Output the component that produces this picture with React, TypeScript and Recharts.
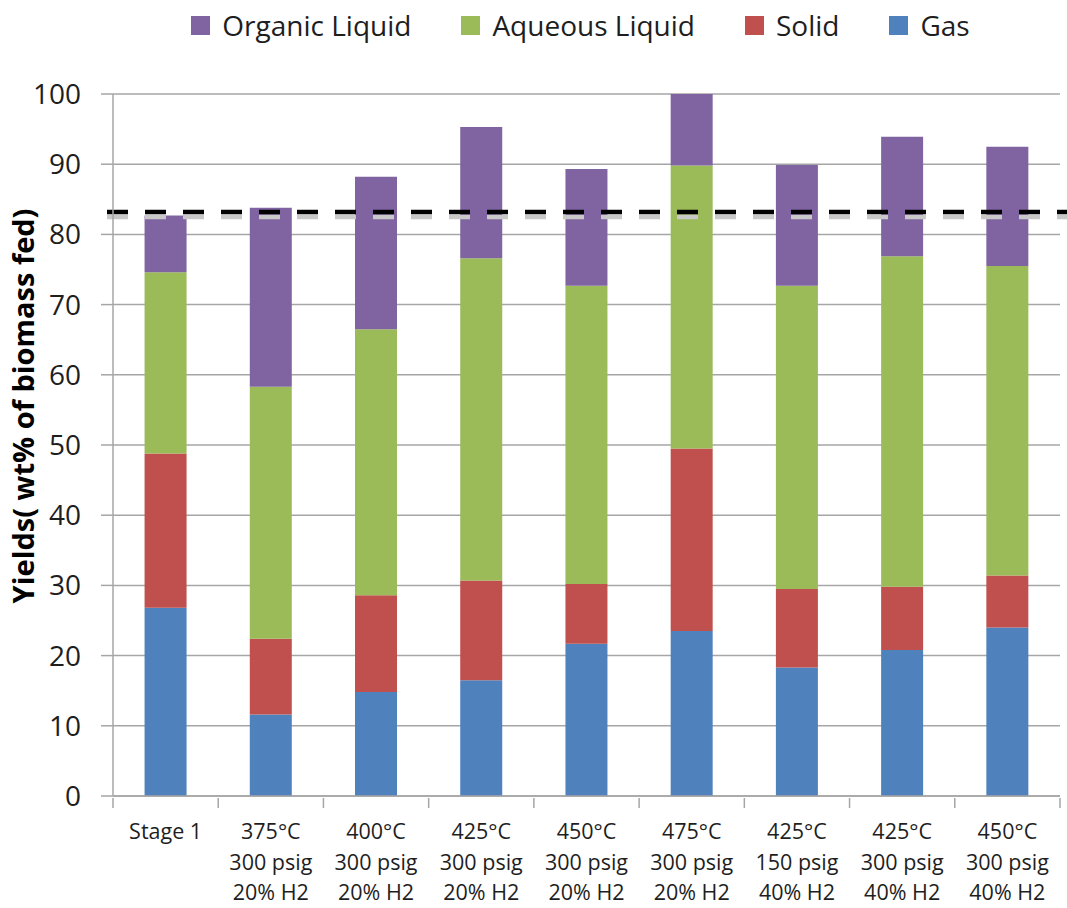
import {
  Bar,
  BarChart,
  CartesianGrid,
  Label,
  Legend,
  ReferenceLine,
  XAxis,
  YAxis,
} from "recharts";

const categories = [
  "Stage 1",
  "375°C\n300 psig\n20% H2",
  "400°C\n300 psig\n20% H2",
  "425°C\n300 psig\n20% H2",
  "450°C\n300 psig\n20% H2",
  "475°C\n300 psig\n20% H2",
  "425°C\n150 psig\n40% H2",
  "425°C\n300 psig\n40% H2",
  "450°C\n300 psig\n40% H2",
];

const gas = [26.8, 11.6, 14.8, 16.5, 21.7, 23.5, 18.3, 20.8, 24.0];
const solid = [22.0, 10.8, 13.8, 14.2, 8.5, 26.0, 11.2, 9.0, 7.4];
const aqueous = [25.8, 35.9, 37.9, 45.9, 42.5, 40.3, 43.2, 47.1, 44.1];
const organic = [8.1, 25.5, 21.7, 18.7, 16.6, 10.2, 17.2, 17.0, 17.0];

const yTicks = [0, 10, 20, 30, 40, 50, 60, 70, 80, 90, 100];
const baseline = 83.2;
const legendOrder = ["Organic Liquid", "Aqueous Liquid", "Solid", "Gas"];

const series = [
  { key: "gas", name: "Gas", color: "#4F81BD" },
  { key: "solid", name: "Solid", color: "#C0504D" },
  { key: "aqueous", name: "Aqueous Liquid", color: "#9BBB59" },
  { key: "organic", name: "Organic Liquid", color: "#8064A2" },
];

const data = categories.map((c, i) => ({
  label: c,
  gas: gas[i],
  solid: solid[i],
  aqueous: aqueous[i],
  organic: organic[i],
}));

const W = 1067;
const H = 908;
const AXIS_W = 113;
const RIGHT = 7;
const band = (W - AXIS_W - RIGHT) / categories.length;
const font = "'Open Sans', sans-serif";
const textColor = "#1e1e1e";
const gridColor = "#a6a6a6";

function XTick(props: any) {
  const { x, y, payload, index } = props;
  const lines = String(payload.value).split("\n");
  return (
    <g>
      <line x1={x - band / 2} y1={y} x2={x - band / 2} y2={y + 10} stroke={gridColor} strokeWidth={1.5} />
      {index === categories.length - 1 && (
        <line x1={x + band / 2} y1={y} x2={x + band / 2} y2={y + 10} stroke={gridColor} strokeWidth={1.5} />
      )}
      {lines.map((l, i) => (
        <text
          key={i}
          x={x}
          y={y + 41 + i * 30.5}
          textAnchor="middle"
          fontSize={21.5}
          fontFamily={font}
          fill={textColor}
        >
          {l}
        </text>
      ))}
    </g>
  );
}

function YTitle() {
  return (
    <text
      x={22}
      y={406}
      transform="rotate(-90, 22, 406)"
      textAnchor="middle"
      dominantBaseline="central"
      fontSize={29}
      fontWeight="bold"
      fontFamily={font}
      fill="#000"
    >
      Yields( wt% of biomass fed)
    </text>
  );
}

function LegendContent(props: any) {
  const items = [...(props.payload || [])].sort(
    (a: any, b: any) => legendOrder.indexOf(a.value) - legendOrder.indexOf(b.value)
  );
  return (
    <div
      style={{
        display: "flex",
        justifyContent: "center",
        alignItems: "center",
        height: 50,
        paddingLeft: 94,
        fontFamily: font,
        fontSize: 28,
        color: textColor,
      }}
    >
      {items.map((it: any, i: number) => (
        <div
          key={it.value}
          style={{ display: "flex", alignItems: "center", marginLeft: i === 0 ? 0 : 50 }}
        >
          <span style={{ width: 19, height: 19, background: it.color, marginRight: 12 }} />
          <span>{it.value}</span>
        </div>
      ))}
    </div>
  );
}

export default function App() {
  return (
    <div style={{ position: "absolute", left: 0, top: 0, background: "#fff" }}>
      <BarChart
        width={W}
        height={H}
        data={data}
        margin={{ top: 94, right: RIGHT, left: 0, bottom: 0 }}
        barCategoryGap="30%"
      >
        <CartesianGrid vertical={false} stroke={gridColor} strokeWidth={1.5} />
        <XAxis
          dataKey="label"
          height={112}
          interval={0}
          tickLine={false}
          tickSize={0}
          axisLine={{ stroke: gridColor, strokeWidth: 1.5 }}
          tick={<XTick />}
        />
        <YAxis
          width={AXIS_W}
          domain={[0, 100]}
          ticks={yTicks}
          interval={0}
          tickSize={12}
          tickMargin={20}
          axisLine={{ stroke: gridColor, strokeWidth: 1.5 }}
          tickLine={{ stroke: gridColor, strokeWidth: 1.5 }}
          tick={{ fontSize: 28, fontFamily: font, fill: textColor }}
        >
          <Label content={<YTitle />} />
        </YAxis>
        <Legend
          layout="horizontal"
          verticalAlign="middle"
          align="center"
          wrapperStyle={{ top: 0, left: 0, width: W }}
          content={<LegendContent />}
        />
        {series.map((s) => (
          <Bar
            key={s.key}
            dataKey={s.key}
            name={s.name}
            stackId="a"
            fill={s.color}
            isAnimationActive={false}
          />
        ))}
        <ReferenceLine
          y={baseline}
          ifOverflow="visible"
          shape={(p: any) => (
            <g>
              <line
                x1={p.x1 - 6}
                y1={p.y1 + 5}
                x2={W}
                y2={p.y2 + 5}
                stroke="#c8c8c8"
                strokeWidth={4.5}
                strokeDasharray="21 17"
              />
              <line
                x1={p.x1 - 6}
                y1={p.y1}
                x2={W}
                y2={p.y2}
                stroke="#000"
                strokeWidth={4.5}
                strokeDasharray="21 17"
              />
            </g>
          )}
        />
      </BarChart>
    </div>
  );
}
